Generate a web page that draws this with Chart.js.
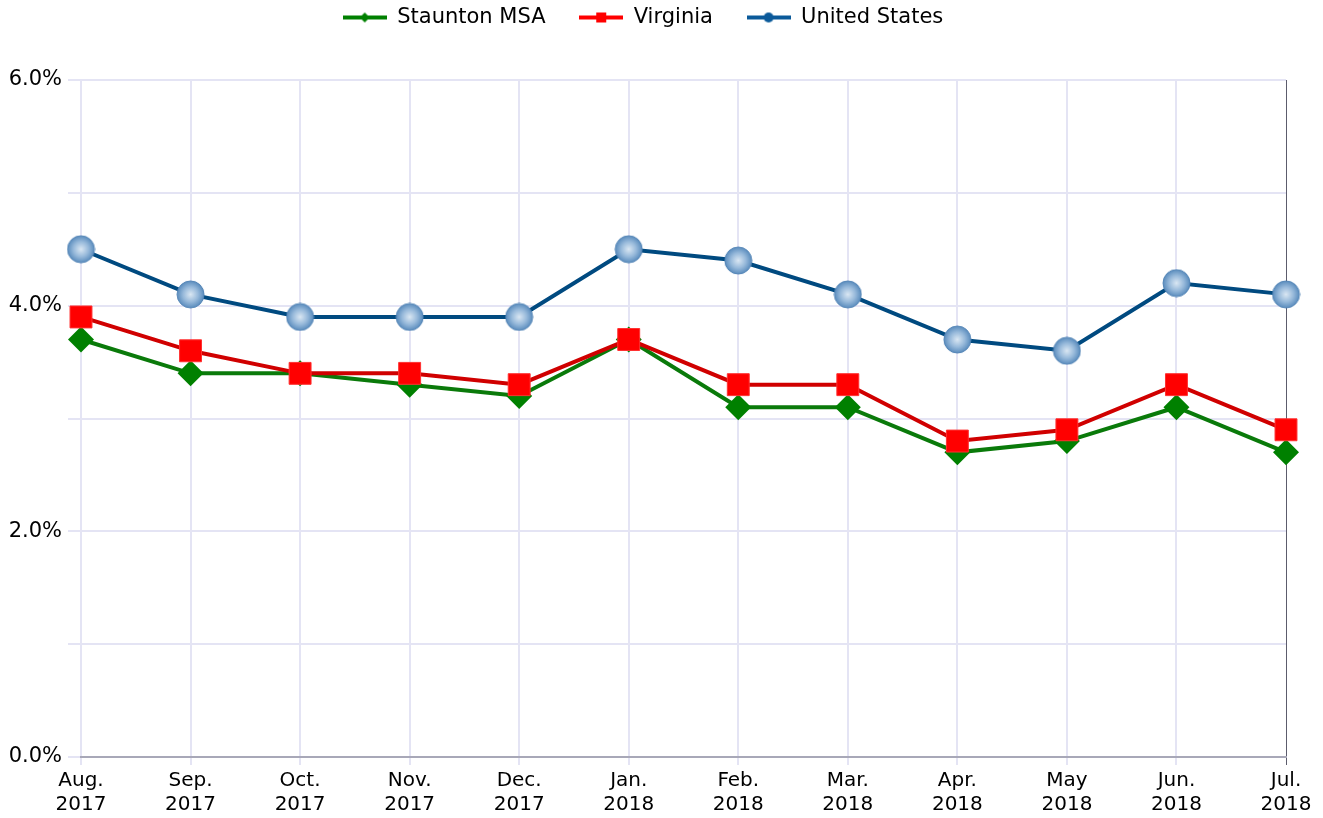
<!DOCTYPE html>
<html>
<head>
<meta charset="utf-8">
<title>Unemployment rate</title>
<script src="https://cdn.jsdelivr.net/npm/chart.js@4.4.1/dist/chart.umd.min.js"></script>
<style>
  html, body { margin: 0; padding: 0; background: #fff; }
  .chart-box { position: relative; width: 1323px; height: 818px; }
</style>
</head>
<body>
<div class="chart-box">
  <canvas id="rateChart"></canvas>
</div>
<script>
// DATA
const months = [
  ['Aug.', '2017'], ['Sep.', '2017'], ['Oct.', '2017'], ['Nov.', '2017'],
  ['Dec.', '2017'], ['Jan.', '2018'], ['Feb.', '2018'], ['Mar.', '2018'],
  ['Apr.', '2018'], ['May', '2018'], ['Jun.', '2018'], ['Jul.', '2018']
];
const seriesNames = ['Staunton MSA', 'Virginia', 'United States'];
const staunton = [3.7, 3.4, 3.4, 3.3, 3.2, 3.7, 3.1, 3.1, 2.7, 2.8, 3.1, 2.7];
const virginia = [3.9, 3.6, 3.4, 3.4, 3.3, 3.7, 3.3, 3.3, 2.8, 2.9, 3.3, 2.9];
const unitedStates = [4.5, 4.1, 3.9, 3.9, 3.9, 4.5, 4.4, 4.1, 3.7, 3.6, 4.2, 4.1];

const FONT = 'DejaVu Sans, Verdana, sans-serif';

// shaded ball marker for the US line
function makeBall(r) {
  const c = document.createElement('canvas');
  c.width = c.height = Math.ceil(r * 2 + 2);
  const g = c.getContext('2d');
  const m = c.width / 2;
  const grad = g.createRadialGradient(m, m, 0, m, m, r);
  grad.addColorStop(0, '#dae7f3');
  grad.addColorStop(0.55, '#98badb');
  grad.addColorStop(1, '#5a8cbd');
  g.beginPath();
  g.arc(m, m, r, 0, Math.PI * 2);
  g.fillStyle = grad;
  g.fill();
  g.lineWidth = 1;
  g.strokeStyle = '#5485b6';
  g.stroke();
  return c;
}

// legend icon: short line with a small marker in the middle
function makeLegendIcon(color, shape) {
  const c = document.createElement('canvas');
  c.width = 44; c.height = 14;
  const g = c.getContext('2d');
  g.strokeStyle = color;
  g.lineWidth = 4;
  g.beginPath(); g.moveTo(0, 7); g.lineTo(44, 7); g.stroke();
  g.fillStyle = color;
  g.beginPath();
  if (shape === 'diamond') {
    g.moveTo(22, 2); g.lineTo(27, 7); g.lineTo(22, 12); g.lineTo(17, 7);
  } else if (shape === 'square') {
    g.rect(17, 2, 10, 10);
  } else {
    g.arc(22, 7, 5, 0, Math.PI * 2);
  }
  g.fill();
  return c;
}

const legendIcons = [
  makeLegendIcon('#008000', 'diamond'),
  makeLegendIcon('#ff0000', 'square'),
  makeLegendIcon('#0b5a9a', 'circle')
];

// reserve room between legend and plot
const legendSpacer = {
  id: 'legendSpacer',
  beforeInit(chart) {
    const origFit = chart.legend.fit;
    chart.legend.fit = function () {
      origFit.bind(chart.legend)();
      this.height = 80;
    };
  }
};

const ctx = document.getElementById('rateChart');
new Chart(ctx, {
  type: 'line',
  data: {
    labels: months,
    datasets: [{
      label: seriesNames[0],
      data: staunton,
      borderColor: '#0a7a0a',
      borderWidth: 4,
      pointStyle: 'rectRot',
      pointRadius: 13,
      pointBackgroundColor: '#008000',
      pointBorderColor: '#008000',
      pointBorderWidth: 0,
      order: 2
    }, {
      label: seriesNames[1],
      data: virginia,
      borderColor: '#d00000',
      borderWidth: 4,
      pointStyle: 'rect',
      pointRadius: 15.5,
      pointBackgroundColor: '#ff0000',
      pointBorderColor: '#ff3030',
      pointBorderWidth: 1,
      order: 1
    }, {
      label: seriesNames[2],
      data: unitedStates,
      borderColor: '#004a80',
      borderWidth: 4,
      pointStyle: makeBall(13.5),
      pointRadius: 13.5,
      order: 0
    }]
  },
  options: {
    responsive: true,
    maintainAspectRatio: false,
    animation: false,
    layout: { padding: { left: 0, right: 37, top: 0, bottom: 0 } },
    elements: { line: { tension: 0 } },
    plugins: {
      tooltip: { enabled: false },
      legend: {
        position: 'top',
        labels: {
          usePointStyle: true,
          pointStyleWidth: 44,
          padding: 7,
          color: '#000',
          font: { family: FONT, size: 21 },
          generateLabels(chart) {
            const items = Chart.defaults.plugins.legend.labels.generateLabels(chart);
            items.sort((a, b) => a.datasetIndex - b.datasetIndex);
            items.forEach((it, i) => {
              it.pointStyle = legendIcons[it.datasetIndex];
              // wider gap after every entry but the last
              if (i < items.length - 1) it.text = it.text + '    ';
            });
            return items;
          }
        }
      }
    },
    scales: {
      x: {
        offset: false,
        afterFit(scale) { scale.height = 61; },
        grid: {
          color: c => c.index === months.length - 1 ? '#5c5c6c' : '#e4e4f4',
          lineWidth: c => c.index === months.length - 1 ? 1 : 2,
          tickLength: 8
        },
        border: { display: true, color: '#a8a8b8', width: 2 },
        ticks: {
          autoSkip: false,
          maxRotation: 0,
          padding: 4,
          color: '#000',
          font: { family: FONT, size: 20, lineHeight: 1.2 }
        }
      },
      y: {
        min: 0,
        max: 6,
        afterFit(scale) { scale.width = 81; },
        grid: { color: '#e4e4f4', lineWidth: 2, tickLength: 13 },
        border: { display: false },
        ticks: {
          stepSize: 1,
          padding: 6,
          color: '#000',
          font: { family: FONT, size: 21 },
          callback: v => (v % 2 === 0 ? v.toFixed(1) + '%' : '')
        }
      }
    }
  },
  plugins: [legendSpacer]
});
</script>
</body>
</html>
